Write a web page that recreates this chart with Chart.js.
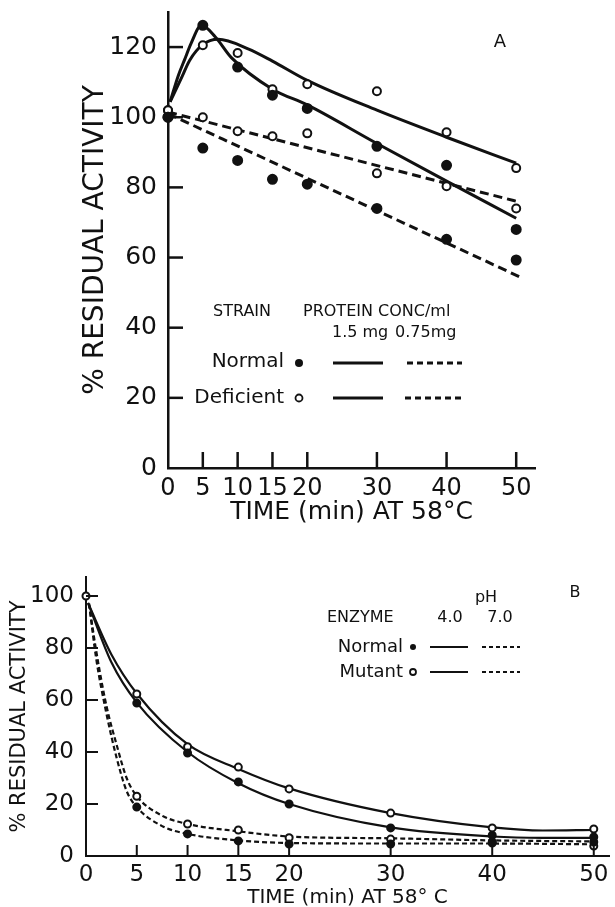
<!DOCTYPE html>
<html>
<head>
<meta charset="utf-8">
<script src="https://cdn.jsdelivr.net/npm/chart.js@4.4.1/dist/chart.umd.min.js"></script>
<style>
  html, body { margin: 0; padding: 0; background: #fff; }
  #chartA { position: absolute; left: 0; top: 0; }
  #chartB { position: absolute; left: 0; top: 560px; }
</style>
</head>
<body>
<canvas id="chartA" width="615" height="545"></canvas>
<canvas id="chartB" width="615" height="347"></canvas>
<script>
// ---- panel A: heat inactivation at two protein concentrations ----
const timeA = [0, 5, 10, 15, 20, 30, 40, 50];
const normalHighA = [100, 126.2, 114.3, 106.3, 102.5, 91.7, 86.3, 68];
const normalLowA = [100, 91.2, 87.7, 82.3, 80.9, 74, 65.2, 59.3];
const deficientHighA = [102, 120.5, 118.3, 108, 109.4, 107.4, 95.7, 85.5];
const deficientLowA = [102, 100, 96, 94.6, 95.4, 84, 80.3, 74];

// hand-drawn fitted curves
const curveNormalHighTimeA = [0.3, 1.5, 2.4, 3.3, 4.8, 6.8, 9.1, 15, 20, 30, 40, 50];
const curveNormalHighA = [104.4, 112, 116.5, 121, 126.2, 122.9, 117, 108, 103.5, 92.5, 81.8, 71.2];
const curveDeficientHighTimeA = [0.3, 2, 3.1, 5, 7.2, 11.5, 15, 20, 30, 40, 50];
const curveDeficientHighA = [104.4, 111.5, 116.2, 120.7, 122.2, 119.5, 116, 110.5, 102, 94.3, 86.9];
const lineLowTimeA = [0, 50.5];
const lineNormalLowA = [101, 54.5];
const lineDeficientLowA = [101.5, 75.8];

const xTicksA = [0, 5, 10, 15, 20, 30, 40, 50];
const yTicksA = [0, 20, 40, 60, 80, 100, 120];

// ---- panel B: normal vs mutant enzyme at pH 4.0 and 7.0 ----
const timeB = [0, 5, 10, 15, 20, 30, 40, 50];
const normalPh4B = [null, 58.8, 39.6, 28.5, 20, 10.8, 8, 7.3];
const mutantPh4B = [100, 62.3, 42, 34.2, 25.8, 16.5, 10.8, 10.4];
const normalPh7B = [null, 18.8, 8.5, 5.8, 4.6, 4.6, 5, 5.4];
const mutantPh7B = [null, 23, 12.3, 10, 7, 6.5, 5.4, 3.8];

const curvePh4TimeB = [0.2, 2.5, 5, 10, 15, 20, 30, 40, 45, 50];
const curveNormalPh4B = [97.3, 74.5, 59, 40, 28, 20, 11, 7.5, 7, 7];
const curveMutantPh4B = [97.3, 77.5, 62.5, 43, 33.5, 26, 16.5, 11, 9.8, 10];
const curvePh7TimeB = [0.3, 1, 2, 3, 4, 5, 7.5, 10, 15, 20, 30, 40, 50];
const curveNormalPh7B = [97, 76, 55, 38, 25, 18.8, 11.5, 8.5, 6, 5, 4.8, 4.8, 4.5];
const curveMutantPh7B = [97, 79, 58, 43, 30, 23, 15.5, 12.3, 9.5, 7.5, 6.8, 6, 5.6];

const xTicksB = [0, 5, 10, 15, 20, 30, 40, 50];
const yTicksB = [0, 20, 40, 60, 80, 100];

const ink = '#111';
const family = '"DejaVu Sans", sans-serif';

function pts(xs, ys) {
  return xs.map((x, i) => ({ x: x, y: ys[i] }));
}

function dots(xs, ys, filled, r) {
  return {
    data: pts(xs, ys),
    showLine: false,
    pointRadius: r,
    pointBorderWidth: 2,
    pointBorderColor: ink,
    pointBackgroundColor: filled ? ink : '#fff',
    clip: false
  };
}

function curve(xs, ys, width, dash) {
  return {
    data: pts(xs, ys),
    borderColor: ink,
    borderWidth: width,
    borderDash: dash,
    pointRadius: 0,
    cubicInterpolationMode: 'monotone',
    fill: false,
    clip: false
  };
}

// short tick marks drawn along the axes
const tickMarks = {
  id: 'tickMarks',
  afterDraw(chart, args, opts) {
    const { ctx, scales: { x, y } } = chart;
    ctx.save();
    ctx.strokeStyle = ink;
    ctx.lineWidth = opts.width;
    x.ticks.forEach(t => {
      if (t.value === 0) return;
      const px = x.getPixelForValue(t.value);
      ctx.beginPath();
      ctx.moveTo(px, x.top);
      ctx.lineTo(px, x.top + opts.xLen);
      ctx.stroke();
    });
    y.ticks.forEach(t => {
      if (t.value === 0) return;
      const py = y.getPixelForValue(t.value);
      ctx.beginPath();
      ctx.moveTo(y.right, py);
      ctx.lineTo(y.right + opts.yLen, py);
      ctx.stroke();
    });
    ctx.restore();
  }
};

function keyDot(ctx, x, y, r, filled) {
  ctx.beginPath();
  ctx.arc(x, y, r, 0, Math.PI * 2);
  if (filled) { ctx.fill(); } else { ctx.lineWidth = 1.8; ctx.stroke(); }
}

function keyLine(ctx, x1, x2, y, w, dash) {
  ctx.beginPath();
  ctx.lineWidth = w;
  ctx.setLineDash(dash);
  ctx.moveTo(x1, y);
  ctx.lineTo(x2, y);
  ctx.stroke();
  ctx.setLineDash([]);
}

const keyA = {
  id: 'keyA',
  afterDraw(chart) {
    const ctx = chart.ctx;
    ctx.save();
    ctx.fillStyle = ink;
    ctx.strokeStyle = ink;
    ctx.textBaseline = 'middle';
    ctx.textAlign = 'left';
    ctx.font = '16px ' + family;
    ctx.fillText('STRAIN', 213, 312);
    ctx.fillText('PROTEIN CONC/ml', 303, 312);
    ctx.fillText('1.5 mg', 332, 333);
    ctx.fillText('0.75mg', 395, 333);
    ctx.font = '20px ' + family;
    ctx.textAlign = 'right';
    ctx.fillText('Normal', 284, 362);
    ctx.fillText('Deficient', 284, 398);
    keyDot(ctx, 299, 363, 4, true);
    keyDot(ctx, 299, 398, 3.5, false);
    keyLine(ctx, 333, 383, 363, 3, []);
    keyLine(ctx, 407, 462, 363, 3, [6, 4]);
    keyLine(ctx, 333, 383, 398, 3, []);
    keyLine(ctx, 405, 462, 398, 3, [6, 4]);
    ctx.textAlign = 'center';
    ctx.font = '18px ' + family;
    ctx.fillText('A', 500, 42);
    ctx.restore();
  }
};

const keyB = {
  id: 'keyB',
  afterDraw(chart) {
    const ctx = chart.ctx;
    ctx.save();
    ctx.fillStyle = ink;
    ctx.strokeStyle = ink;
    ctx.textBaseline = 'middle';
    ctx.textAlign = 'center';
    ctx.font = '16px ' + family;
    ctx.fillText('pH', 486, 38);
    ctx.fillText('4.0', 450, 58);
    ctx.fillText('7.0', 500, 58);
    ctx.fillText('B', 575, 33);
    ctx.textAlign = 'left';
    ctx.fillText('ENZYME', 327, 58);
    ctx.font = '18px ' + family;
    ctx.textAlign = 'right';
    ctx.fillText('Normal', 403, 87);
    ctx.fillText('Mutant', 403, 112);
    keyDot(ctx, 413, 87, 3, true);
    keyDot(ctx, 413, 112, 3, false);
    keyLine(ctx, 430, 468, 87, 2, []);
    keyLine(ctx, 482, 520, 87, 2, [4, 3]);
    keyLine(ctx, 430, 468, 112, 2, []);
    keyLine(ctx, 482, 520, 112, 2, [4, 3]);
    ctx.restore();
  }
};

function axis(opts) {
  return {
    type: 'linear',
    min: opts.min,
    max: opts.max,
    afterBuildTicks: s => { s.ticks = opts.ticks.map(v => ({ value: v })); },
    afterFit: s => {
      if (opts.width !== undefined) s.width = opts.width;
      if (opts.height !== undefined) s.height = opts.height;
      s.paddingTop = 0; s.paddingBottom = 0; s.paddingLeft = 0; s.paddingRight = 0;
    },
    grid: { display: false, drawTicks: false },
    border: { display: true, color: ink, width: opts.border },
    ticks: {
      color: ink,
      font: { family: family, size: opts.tickSize },
      padding: opts.tickPad,
      maxRotation: 0,
      autoSkip: false
    },
    title: {
      display: true,
      text: opts.title,
      color: ink,
      font: { family: family, size: opts.titleSize, lineHeight: opts.titleLine || 1.2 },
      padding: opts.titlePad
    }
  };
}

Chart.defaults.animation = false;

new Chart(document.getElementById('chartA'), {
  type: 'line',
  data: {
    datasets: [
      dots(timeA, normalHighA, true, 4.5),
      dots(timeA, normalLowA, true, 4.5),
      dots(timeA, deficientHighA, false, 4),
      dots(timeA, deficientLowA, false, 4),
      curve(curveNormalHighTimeA, curveNormalHighA, 3, []),
      curve(curveDeficientHighTimeA, curveDeficientHighA, 3, []),
      curve(lineLowTimeA, lineNormalLowA, 3, [9, 5]),
      curve(lineLowTimeA, lineDeficientLowA, 3, [9, 5])
    ]
  },
  options: {
    responsive: false,
    events: [],
    layout: { padding: { top: 12, right: 80, left: 0, bottom: 0 } },
    plugins: {
      legend: { display: false },
      tooltip: { enabled: false },
      tickMarks: { xLen: -16, yLen: 15, width: 2.5 }
    },
    scales: {
      x: axis({ min: 0, max: 52.7, ticks: xTicksA, height: 77, border: 2.5,
        tickSize: 24, tickPad: 6, title: 'TIME (min) AT 58°C', titleSize: 25,
        titlePad: { top: 0, bottom: 18 } }),
      y: axis({ min: 0, max: 130, ticks: yTicksA, width: 168, border: 2.5,
        tickSize: 25, tickPad: 11, title: '% RESIDUAL ACTIVITY', titleSize: 28,
        titlePad: { top: 79, bottom: 0 } })
    }
  },
  plugins: [tickMarks, keyA]
});

new Chart(document.getElementById('chartB'), {
  type: 'line',
  data: {
    datasets: [
      dots(timeB, normalPh4B, true, 3.5),
      dots(timeB, normalPh7B, true, 3.5),
      dots(timeB, mutantPh4B, false, 3.5),
      dots(timeB, mutantPh7B, false, 3.5),
      curve(curvePh4TimeB, curveNormalPh4B, 2.2, []),
      curve(curvePh4TimeB, curveMutantPh4B, 2.2, []),
      curve(curvePh7TimeB, curveNormalPh7B, 2.2, [5, 3]),
      curve(curvePh7TimeB, curveMutantPh7B, 2.2, [5, 3])
    ]
  },
  options: {
    responsive: false,
    events: [],
    layout: { padding: { top: 17, right: 2, left: 0, bottom: 0 } },
    plugins: {
      legend: { display: false },
      tooltip: { enabled: false },
      tickMarks: { xLen: -11, yLen: 12, width: 2 }
    },
    scales: {
      x: axis({ min: 0, max: 51.5, ticks: xTicksB, height: 51, border: 2,
        tickSize: 23, tickPad: 5, title: 'TIME (min) AT 58° C', titleSize: 20,
        titleLine: 0.9, titlePad: { top: 0, bottom: 0 } }),
      y: axis({ min: 0, max: 107.3, ticks: yTicksB, width: 86, border: 2,
        tickSize: 23, tickPad: 12, title: '% RESIDUAL ACTIVITY', titleSize: 21,
        titlePad: { top: 7, bottom: 0 } })
    }
  },
  plugins: [tickMarks, keyB]
});
</script>
</body>
</html>
